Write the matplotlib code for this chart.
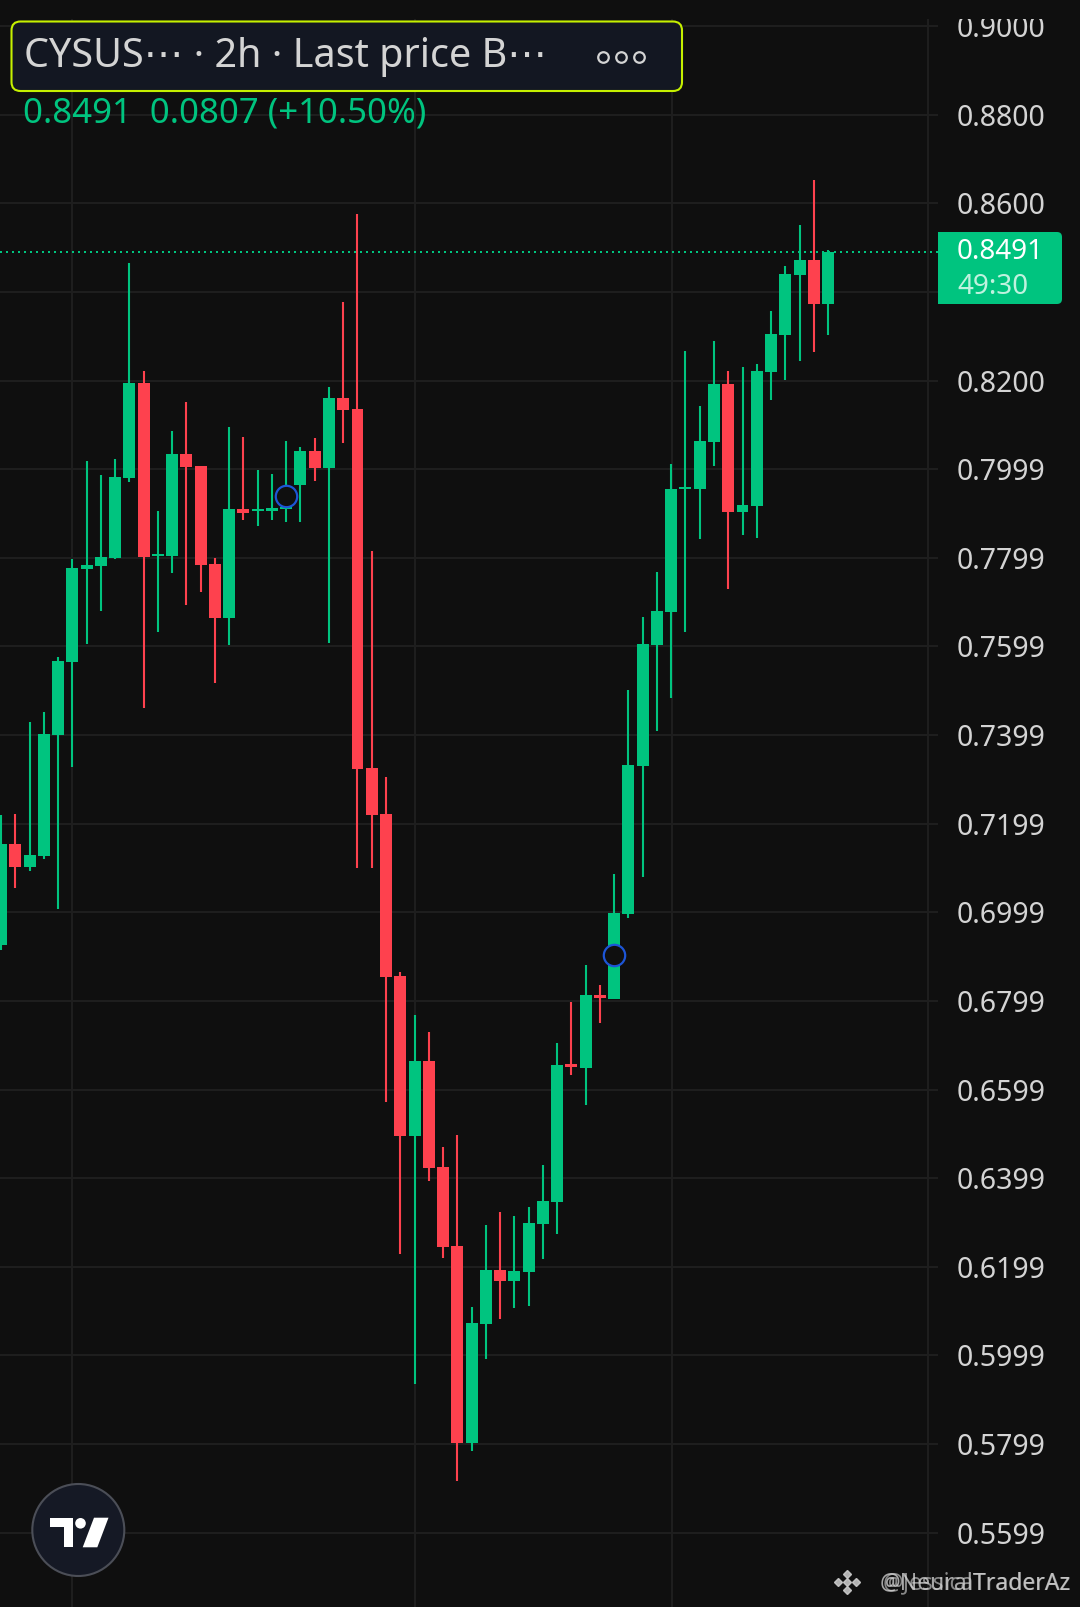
import numpy as np
import matplotlib.pyplot as plt
from matplotlib.patches import FancyBboxPatch, Rectangle, Circle, Polygon

plt.rcParams['font.family'] = ['Noto Sans', 'DejaVu Sans']

# 2h candles
opens = [0.6926, 0.7154, 0.7102, 0.7127, 0.7400, 0.7565, 0.7775, 0.7781, 0.7799, 0.7980,
         0.8194, 0.7804, 0.7804, 0.8034, 0.8007, 0.7786, 0.7664, 0.7910, 0.7906, 0.7906,
         0.7910, 0.7964, 0.8041, 0.8003, 0.8161, 0.8136, 0.7326, 0.7222, 0.6856, 0.6495,
         0.6664, 0.6425, 0.6247, 0.5802, 0.6071, 0.6193, 0.6168, 0.6189, 0.6297, 0.6346,
         0.6657, 0.6649, 0.6813, 0.6804, 0.6996, 0.7330, 0.7603, 0.7678, 0.7955, 0.7955,
         0.8061, 0.8192, 0.7903, 0.7917, 0.8219, 0.8303, 0.8438, 0.8472, 0.8373]
highs = [0.7220, 0.7222, 0.7429, 0.7452, 0.7576, 0.7797, 0.8018, 0.7987, 0.8023, 0.8465,
         0.8221, 0.7906, 0.8086, 0.8152, 0.8007, 0.7799, 0.8095, 0.8073, 0.7998, 0.7989,
         0.8063, 0.8050, 0.8070, 0.8185, 0.8377, 0.8576, 0.7815, 0.7305, 0.6865, 0.6768,
         0.6730, 0.6470, 0.6497, 0.6109, 0.6294, 0.6324, 0.6315, 0.6335, 0.6430, 0.6705,
         0.6798, 0.6881, 0.6836, 0.7086, 0.7502, 0.7666, 0.7768, 0.8012, 0.8267, 0.8143,
         0.8289, 0.8221, 0.8230, 0.8237, 0.8357, 0.8458, 0.8551, 0.8652, 0.8495]
lows = [0.6915, 0.7055, 0.7093, 0.7120, 0.7007, 0.7328, 0.7605, 0.7680, 0.7797, 0.7971,
        0.7461, 0.7633, 0.7766, 0.7693, 0.7723, 0.7517, 0.7603, 0.7885, 0.7872, 0.7885,
        0.7881, 0.7881, 0.7973, 0.7608, 0.8059, 0.7100, 0.7100, 0.6572, 0.6229, 0.5936,
        0.6394, 0.6220, 0.5716, 0.5784, 0.5992, 0.6082, 0.6107, 0.6112, 0.6218, 0.6274,
        0.6633, 0.6565, 0.6750, 0.6804, 0.6987, 0.7080, 0.7409, 0.7484, 0.7633, 0.7842,
        0.8007, 0.7730, 0.7851, 0.7845, 0.8156, 0.8201, 0.8244, 0.8264, 0.8303]
closes = [0.7154, 0.7102, 0.7129, 0.7402, 0.7567, 0.7777, 0.7784, 0.7802, 0.7982, 0.8194,
          0.7802, 0.7809, 0.8034, 0.8005, 0.7784, 0.7664, 0.7910, 0.7901, 0.7910, 0.7912,
          0.7915, 0.8041, 0.8003, 0.8161, 0.8133, 0.7323, 0.7220, 0.6854, 0.6495, 0.6664,
          0.6423, 0.6245, 0.5802, 0.6073, 0.6193, 0.6168, 0.6191, 0.6299, 0.6349, 0.6655,
          0.6650, 0.6813, 0.6807, 0.6998, 0.7332, 0.7605, 0.7680, 0.7955, 0.7960, 0.8063,
          0.8192, 0.7903, 0.7919, 0.8221, 0.8305, 0.8440, 0.8472, 0.8373, 0.8491]

# blue circle markers (candle index, price)
mark_idx = [20, 43]
mark_price = [0.7940, 0.6904]

tick_vals = [0.56, 0.58, 0.60, 0.62, 0.64, 0.66, 0.68, 0.70, 0.72, 0.74,
             0.76, 0.78, 0.80, 0.82, 0.84, 0.86, 0.88, 0.90]
tick_labels = ['0.5599', '0.5799', '0.5999', '0.6199', '0.6399', '0.6599', '0.6799',
               '0.6999', '0.7199', '0.7399', '0.7599', '0.7799', '0.7999', '0.8200',
               '0.8400', '0.8600', '0.8800', '0.9000']
time_grid = [4.98, 29.03, 47.05, 65.0]

last_price = '0.8491'
change_text = '0.8491  0.0807 (+10.50%)'
countdown = '49:30'
title = 'CYSUS\u22ef \u00b7 2h \u00b7 Last price B\u22ef'

BG = '#0f0f0f'
GREEN = '#00c47f'
RED = '#fe414e'
GRID = '#1e1e1e'
TXT = '#d4d4d4'

W, H = 1080, 1607
fig = plt.figure(figsize=(W / 100, H / 100), dpi=100, facecolor=BG)

ax = fig.add_axes([0, 0, 938 / W, 1])
ax.set_facecolor(BG)
ax.set_xlim(-0.07, 65.71)
ax.set_ylim(0.54324, 0.905867)
for s in ax.spines.values():
    s.set_visible(False)

ax.set_yticks(tick_vals)
ax.set_yticklabels(tick_labels)
ax.yaxis.tick_right()
ax.tick_params(axis='y', length=0, pad=13.5, labelsize=20.5, labelcolor=TXT)
ax.set_xticks(time_grid)
ax.tick_params(axis='x', length=0, labelbottom=False)
ax.grid(True, color=GRID, lw=1.5, zorder=0)
ax.set_axisbelow(True)

o = np.array(opens)
c = np.array(closes)
hi = np.array(highs)
lo = np.array(lows)
x = np.arange(len(o))
cols = np.where(c >= o, GREEN, RED)

ax.axhline(closes[-1], color=GREEN, lw=1.44, linestyle=(0, (1, 2)), zorder=1)
ax.vlines(x, lo, hi, colors=cols, lw=1.5, zorder=2)
body_h = np.maximum(np.abs(c - o), 0.0005)
ax.bar(x, body_h, bottom=np.minimum(o, c), width=0.84, color=cols, lw=0, zorder=3)

ax.plot(mark_idx, mark_price, 'o', ms=15.4, mfc=BG, mec='#1d55d6', mew=1.6, zorder=4)

# overlay in pixel coordinates for the UI bits
ov = fig.add_axes([0, 0, 1, 1], zorder=5)
ov.set_xlim(0, W)
ov.set_ylim(H, 0)
ov.axis('off')

ov.add_patch(Rectangle((0, 0), W, 19, color=BG, lw=0))

ov.add_patch(FancyBboxPatch((11.5, 21.5), 670.5, 69.5,
                            boxstyle='round,pad=0,rounding_size=9',
                            fc='#131722', ec='#c5f000', lw=1.5))
ov.text(24, 57, title, ha='left', va='center', fontsize=28.5, color=TXT)
ov.plot([602.7, 621.4, 639.3], [57, 57, 57], 'o', ms=7.6, mfc='none',
        mec=TXT, mew=1.6)
ov.text(23, 114, change_text, ha='left', va='center', fontsize=25, color=GREEN)

# last price tag
ov.add_patch(FancyBboxPatch((938, 232), 124, 72, boxstyle='round,pad=0,rounding_size=5',
                            fc=GREEN, lw=0))
ov.add_patch(Rectangle((938, 232), 30, 72, fc=GREEN, lw=0))
ov.text(957, 252, last_price, ha='left', va='center', fontsize=20, color='white')
ov.text(957, 287, countdown, ha='left', va='center', fontsize=20, color='#bff2de')

# tradingview logo
ov.add_patch(Circle((78.3, 1530), 46, fc='#151925', ec='#4b4e57', lw=1.5))
ov.add_patch(Polygon([(50, 1517.7), (73.3, 1517.7), (73.3, 1547.3), (64, 1547.3),
                      (64, 1527.3), (50, 1527.3)], closed=True, fc='white', lw=0))
ov.add_patch(Circle((80.5, 1523.3), 5.3, fc='white', lw=0))
ov.add_patch(Polygon([(94, 1517.7), (108.5, 1517.7), (97.3, 1547.3), (82.7, 1547.3)],
                     closed=True, fc='white', lw=0))

# watermark
ov.plot([838, 847, 856, 847, 847], [1582, 1582, 1582, 1574, 1590], 'D', ms=4,
        color='#cfcfcf', alpha=0.85)
ov.text(1071, 1583, '@NeuralTraderAz', ha='right', va='center', fontsize=16.5,
        color='#d8d8d8', alpha=0.75)
ov.text(1071, 1583, '@JessicaTraderAz', ha='right', va='center', fontsize=16.5,
        color='#d8d8d8', alpha=0.6)

fig.savefig('out.png', dpi=100, facecolor=BG)
